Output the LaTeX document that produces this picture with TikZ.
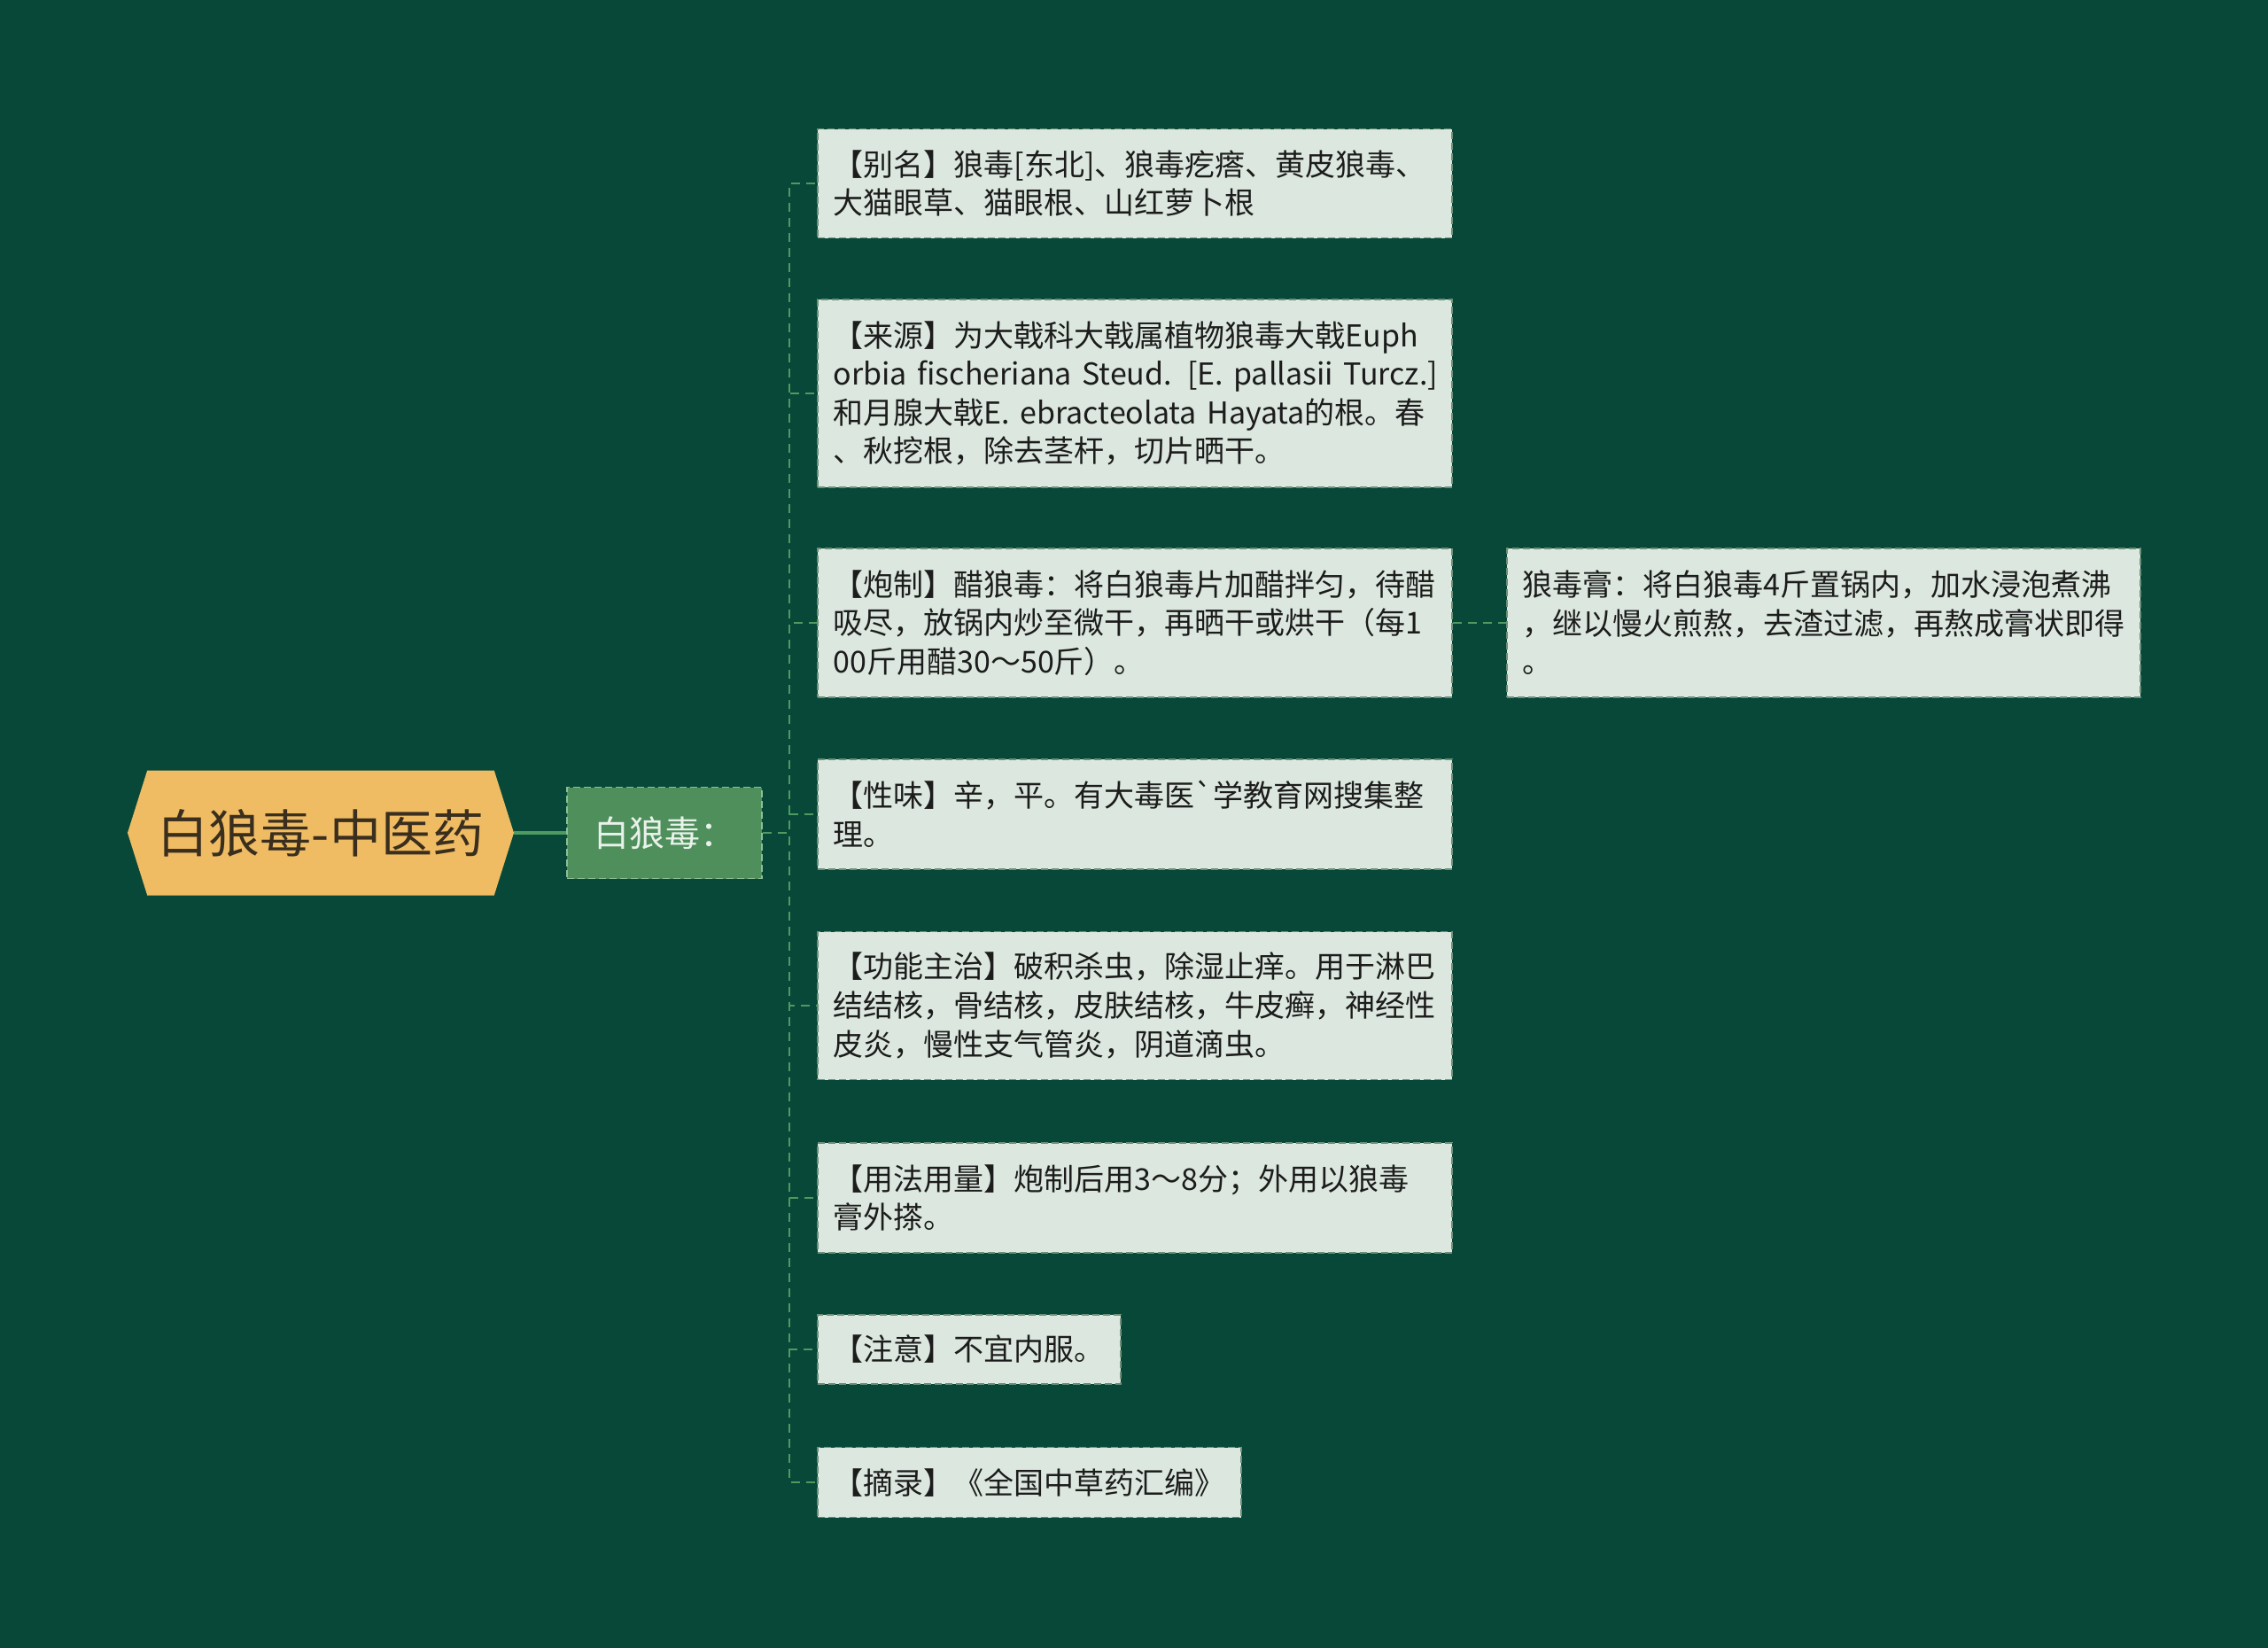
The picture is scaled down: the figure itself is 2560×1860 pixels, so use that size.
\documentclass[tikz,border=0pt]{standalone}
\usepackage{fontspec}
\newfontfamily\cjk{Noto Sans CJK SC}
\usetikzlibrary{shapes.symbols}
\definecolor{bg}{HTML}{074838}
\definecolor{rootfill}{HTML}{F0BC63}
\definecolor{roottext}{HTML}{3A2E1E}
\definecolor{childfill}{HTML}{4F8F5B}
\definecolor{childborder}{HTML}{8CBF96}
\definecolor{childtext}{HTML}{E8F2EA}
\definecolor{leaffill}{HTML}{DCE8DF}
\definecolor{leafborder}{HTML}{6E8F78}
\definecolor{leaftext}{HTML}{1C1C1C}
\definecolor{conncol}{HTML}{4E9A60}
\tikzset{
  x=1pt, y=-1pt,
  rootnode/.style={shape=signal, signal to=east and west, signal pointer angle=145,
    fill=rootfill, draw=none, minimum width=436pt, minimum height=141pt, inner sep=0pt,
    text=roottext, font=\cjk\fontsize{58}{64}\selectfont},
  childnode/.style={fill=childfill, draw=childborder, dash pattern=on 8pt off 4pt, line width=1.5pt,
    minimum width=220pt, minimum height=103pt, inner sep=0pt,
    text=childtext, font=\cjk\fontsize{40}{48}\selectfont},
  leaf/.style={fill=leaffill, draw=leafborder, dash pattern=on 8pt off 4pt, line width=1.5pt,
    text width=680pt, align=left, inner xsep=18pt, inner ysep=0pt, anchor=west,
    text=leaftext, font=\cjk\fontsize{34}{43.6}\selectfont},
  conn/.style={draw=conncol, line width=2pt, dash pattern=on 10pt off 7pt},
  rootconn/.style={draw=conncol, line width=3.5pt}
}
\begin{document}
\begin{tikzpicture}
\useasboundingbox[fill=bg] (0,0) rectangle (2560,1860);

\node[rootnode] (root) at (362,940) {白狼毒-中医药};
\node[childnode] (child) at (750,940) {白狼毒：};
\coordinate (trunk) at (891,940);

\node[leaf, minimum height=123pt] (l1) at (922,207) {【别名】狼毒[东北]、狼毒疙瘩、黄皮狼毒、\\大猫眼草、猫眼根、山红萝卜根};
\node[leaf, minimum height=212pt] (l2) at (922,444) {【来源】为大戟科大戟属植物狼毒大戟Euph\\\mbox{orbia fischeriana Steud. [E. pallasii Turcz.]}\\\mbox{和月腺大戟E. ebracteolata Hayata的根。春}\\、秋挖根，除去茎杆，切片晒干。};
\node[leaf, minimum height=168pt] (l3) at (922,703) {【炮制】醋狼毒：将白狼毒片加醋拌匀，待醋\\吸尽，放锅内炒至微干，再晒干或烘干（每1\\00斤用醋30～50斤）。};
\node[leaf, minimum height=124pt] (l4) at (922,919) {【性味】辛，平。有大毒医\symbol{96}学教育网搜集整\\理。};
\node[leaf, minimum height=167pt] (l5) at (922,1135) {【功能主治】破积杀虫，除湿止痒。用于淋巴\\结结核，骨结核，皮肤结核，牛皮癣，神经性\\皮炎，慢性支气管炎，阴道滴虫。};
\node[leaf, minimum height=124pt] (l6) at (922,1352) {【用法用量】炮制后用3～8分；外用以狼毒\\膏外搽。};
\node[leaf, text width=306pt, minimum height=78pt] (l7) at (922,1523) {【注意】不宜内服。};
\node[leaf, text width=442pt, minimum height=79pt] (l8) at (922,1673) {【摘录】《全国中草药汇编》};
\node[leaf, text width=679pt, minimum height=168pt] (r1) at (1700,703) {狼毒膏：将白狼毒4斤置锅内，加水浸泡煮沸\\，继以慢火煎熬，去渣过滤，再熬成膏状即得\\。};

\draw[rootconn] (root.east) -- (child.west);
\foreach \n in {l1,l2,l3,l4,l5,l6,l7,l8}
  \draw[conn] (child.east) -- (trunk) |- (\n.west);
\draw[conn] (l3.east) -- (r1.west);
\end{tikzpicture}
\end{document}
